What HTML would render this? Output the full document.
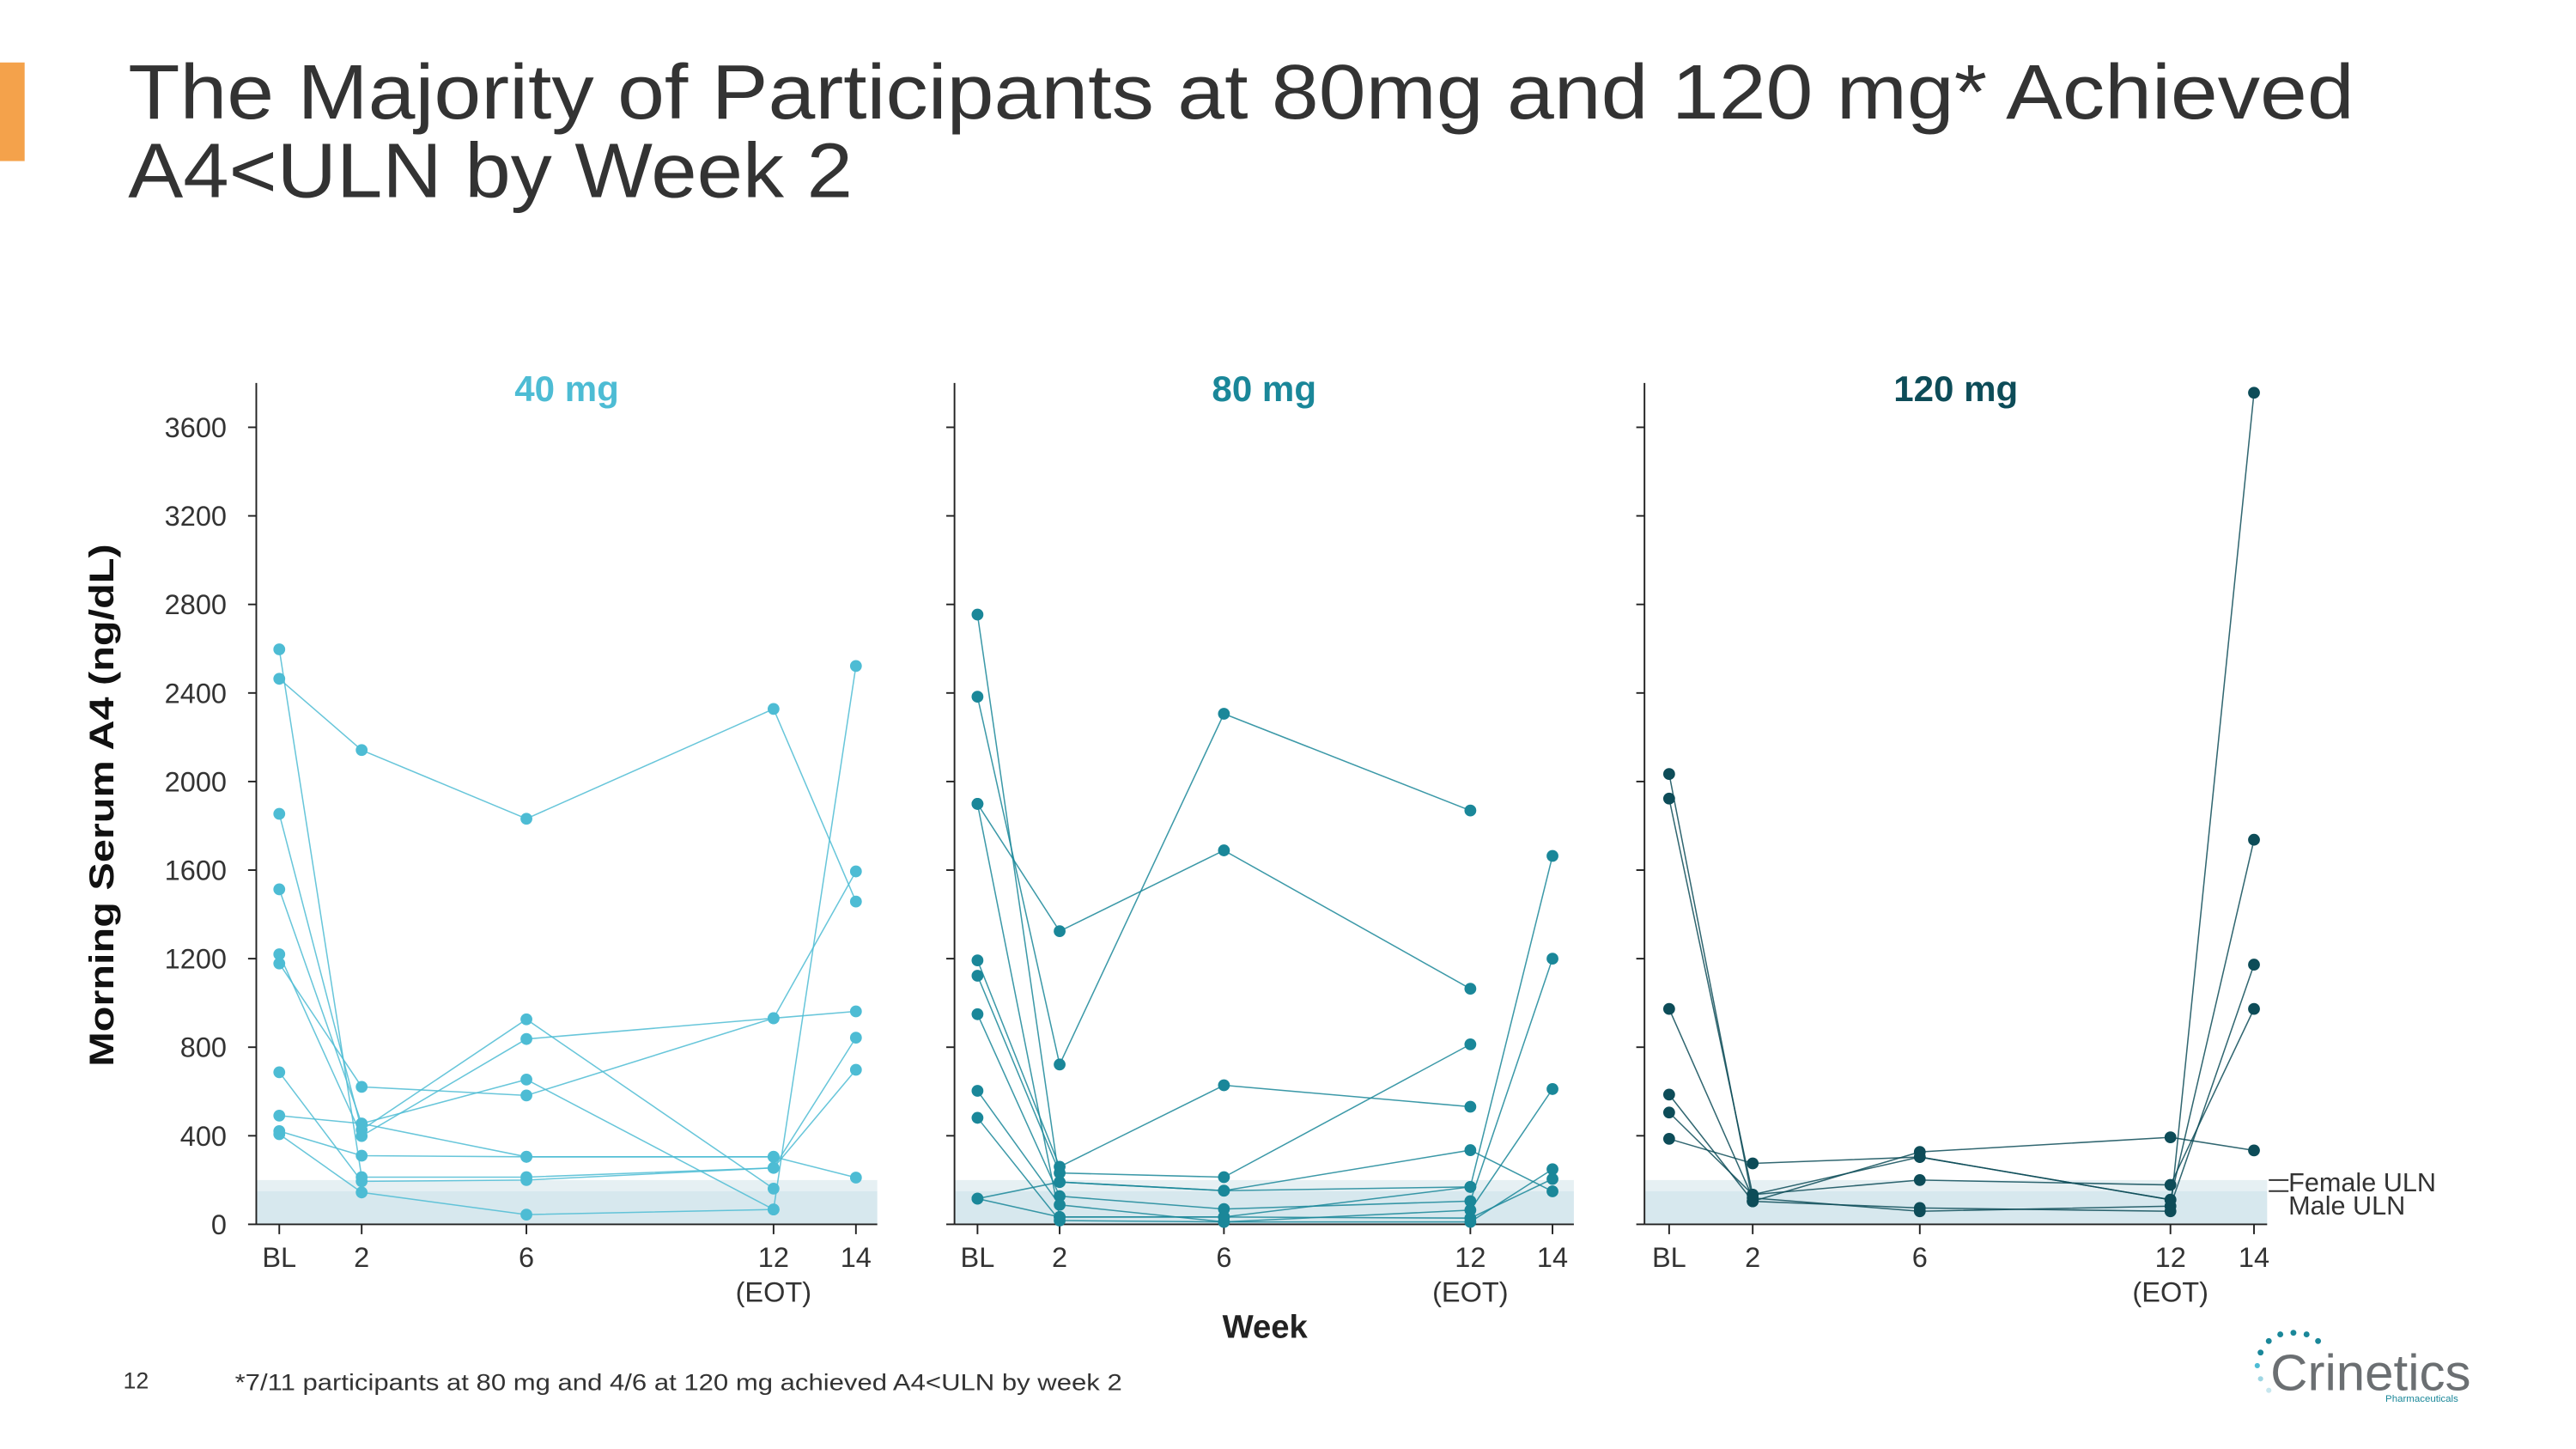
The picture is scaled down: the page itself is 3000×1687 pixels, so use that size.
<!DOCTYPE html>
<html><head><meta charset="utf-8"><style>
html,body{margin:0;padding:0;background:#fff;}
svg{display:block;}
text{font-family:"Liberation Sans",sans-serif;}
</style></head><body>
<svg id="chart" width="3000" height="1687" viewBox="0 0 1568 881.7" xmlns="http://www.w3.org/2000/svg">
<rect x="0" y="38" width="15" height="60" fill="#f4a24b"/>
<text x="78" y="72" font-size="47" fill="#333" textLength="1355" lengthAdjust="spacingAndGlyphs">The Majority of Participants at 80mg and 120 mg* Achieved</text>
<text x="78" y="120" font-size="47" fill="#333" textLength="441" lengthAdjust="spacingAndGlyphs">A4&lt;ULN by Week 2</text>
<text transform="translate(69,490) rotate(-90)" text-anchor="middle" font-size="21" font-weight="bold" fill="#111" textLength="318" lengthAdjust="spacingAndGlyphs">Morning Serum A4 (ng/dL)</text>
<text x="770" y="814" text-anchor="middle" font-size="20" font-weight="bold" fill="#222">Week</text>
<text x="75" y="845" font-size="14" fill="#333">12</text>
<text x="143" y="846" font-size="14" fill="#333" textLength="540" lengthAdjust="spacingAndGlyphs">*7/11 participants at 80 mg and 4/6 at 120 mg achieved A4&lt;ULN by week 2</text>
<g>
<text x="1382" y="846" font-size="31" fill="#6b6f72" textLength="122" lengthAdjust="spacingAndGlyphs">Crinetics</text>
<text x="1452" y="853" font-size="6" fill="#1a8799">Pharmaceuticals</text>
<circle cx="1376" cy="823" r="1.8" fill="#1a8799"/><circle cx="1381" cy="816" r="1.8" fill="#1a8799"/><circle cx="1388" cy="812" r="1.8" fill="#1a8799"/><circle cx="1396" cy="811" r="1.8" fill="#1a8799"/><circle cx="1404" cy="812" r="1.8" fill="#1a8799"/><circle cx="1411" cy="816" r="1.8" fill="#1a8799"/><circle cx="1374" cy="831" r="1.6" fill="#4dbcd4"/><circle cx="1376" cy="839" r="1.6" fill="#9fd6e3"/><circle cx="1381" cy="846" r="1.6" fill="#c7e6ee"/>
</g>
<g id="panels"></g>
</svg>
<script>
const weeks = [0, 2, 6, 12, 14];
const weekLabels = ["BL", "2", "6", "12", "14"];
const yTicks = [0, 400, 800, 1200, 1600, 2000, 2400, 2800, 3200, 3600];
const panelTitles = ["40 mg", "80 mg", "120 mg"];
const femaleULN = 200;
const maleULN = 150;
const dose40 = [
  [2464, 2142, 1832, 2328, 1458],
  [2597, 213, 213, 255, 698],
  [1854, 427, 926, 161, null],
  [1220, 399, 837, 931, 962],
  [1178, 621, 582, 931, 1594],
  [1513, 455, 654, 67, 2522],
  [687, 194, 200, 255, 843],
  [491, 455, 305, 305, null],
  [421, 310, 305, 305, 211],
  [407, 144, 44, 67, null]
];
const dose80 = [
  [2754, 191, 152, 169, null],
  [2383, 722, 2306, 1869, null],
  [1899, 1324, 1689, 1064, null],
  [1899, 33, 33, 169, 1664],
  [1192, 260, 628, 531, null],
  [1123, 232, 213, 813, null],
  [949, 127, 69, 105, 1200],
  [603, 88, 11, 64, 611],
  [481, 17, 11, 11, 249],
  [116, 33, 33, 28, 205],
  [116, 191, 152, 335, 149]
];
const dose120 = [
  [2034, 104, 74, 59, 3756],
  [1923, 134, 304, 111, 1737],
  [973, 119, 59, 82, 1173],
  [586, 104, 327, 393, 334],
  [505, 134, 200, 178, 973],
  [386, 275, 304, 111, null]
];
const NS = "http://www.w3.org/2000/svg";
const root = document.getElementById("panels");
const panelDefs = [
  {data: dose40, color: "#4dbcd4", ax: 156, x0: 170, x14: 521, right: 534},
  {data: dose80, color: "#1a8799", ax: 581, x0: 595, x14: 945, right: 958},
  {data: dose120, color: "#0d4c58", ax: 1001, x0: 1016, x14: 1372, right: 1380}
];
function yScale(v){ return 745 - v / 3600 * 485; }
function mk(tag, attrs, parent){
  const e = document.createElementNS(NS, tag);
  for (const k in attrs) e.setAttribute(k, attrs[k]);
  parent.appendChild(e);
  return e;
}
panelDefs.forEach((p, pi) => {
  const xScale = w => p.x0 + (w / 14) * (p.x14 - p.x0);
  const g = mk("g", {}, root);
  
  
  const b1 = mk("rect", {x: p.ax, y: yScale(femaleULN), width: p.right - p.ax, height: yScale(maleULN) - yScale(femaleULN), fill: "#e6f0f3"}, g);
  
  
  const b2 = mk("rect", {x: p.ax, y: yScale(maleULN), width: p.right - p.ax, height: yScale(0) - yScale(maleULN), fill: "#d7e8ee"}, g);
  
  
  const ya = mk("line", {x1: p.ax, y1: 233, x2: p.ax, y2: 745, stroke: "#222", "stroke-width": 1}, g);
  
  
  const xa = mk("line", {x1: p.ax, y1: 745, x2: p.right, y2: 745, stroke: "#222", "stroke-width": 1}, g);
  
  
  yTicks.forEach(t => {
    const tk = mk("line", {x1: p.ax - 5, y1: yScale(t), x2: p.ax, y2: yScale(t), stroke: "#222", "stroke-width": 1}, g);
    
    
    if (pi === 0) {
      const tl = mk("text", {x: 138, y: yScale(t) + 6, "text-anchor": "end", "font-size": 17, fill: "#333"}, g);
      tl.textContent = t;
      
      
    }
  });
  weeks.forEach((w, i) => {
    const x = xScale(w);
    const tk = mk("line", {x1: x, y1: 745, x2: x, y2: 751, stroke: "#222", "stroke-width": 1}, g);
    
    
    const tl = mk("text", {x: x, y: 771, "text-anchor": "middle", "font-size": 17, fill: "#333"}, g);
    tl.textContent = weekLabels[i];
    
    
    if (w === 12) {
      const eo = mk("text", {x: x, y: 792, "text-anchor": "middle", "font-size": 17, fill: "#333"}, g);
      eo.textContent = "(EOT)";
      
      
    }
  });
  const title = mk("text", {x: (p.ax + p.right) / 2, y: 244, "text-anchor": "middle", "font-size": 22, "font-weight": "bold", fill: p.color}, g);
  title.textContent = panelTitles[pi];
  
  
  p.data.forEach(subj => {
    const pts = [];
    subj.forEach((v, i) => { if (v !== null) pts.push([xScale(weeks[i]), yScale(v)]); });
    const line = mk("polyline", {points: pts.map(q => q.join(",")).join(" "), fill: "none", stroke: p.color, "stroke-width": 0.8, opacity: 0.85}, g);
    
    
    pts.forEach(q => {
      const c = mk("circle", {cx: q[0], cy: q[1], r: 3.6, fill: p.color}, g);
      
      
    });
  });
  if (pi === 2) {
    const l1 = mk("line", {x1: 1381, y1: yScale(femaleULN), x2: 1393, y2: yScale(femaleULN), stroke: "#333", "stroke-width": 1}, g);
    
    
    const l2 = mk("line", {x1: 1381, y1: yScale(maleULN), x2: 1393, y2: yScale(maleULN), stroke: "#333", "stroke-width": 1}, g);
    
    
    const t1 = mk("text", {x: 1393, y: 725, "font-size": 16, fill: "#333"}, g);
    t1.textContent = "Female ULN";
    
    
    const t2 = mk("text", {x: 1393, y: 739, "font-size": 16, fill: "#333"}, g);
    t2.textContent = "Male ULN";
    
    
  }
});
</script>
</body></html>
